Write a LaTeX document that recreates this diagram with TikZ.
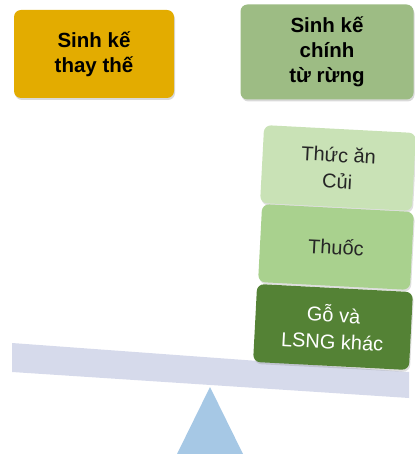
\documentclass[tikz,border=0pt]{standalone}
\usepackage{fontspec}
\setmainfont{Liberation Sans}
\usetikzlibrary{shadows}
\definecolor{altGold}{HTML}{E3AC00}
\definecolor{forestTop}{HTML}{9DBC84}
\definecolor{foodGreen}{HTML}{C9E2B6}
\definecolor{medGreen}{HTML}{A9D18E}
\definecolor{woodGreen}{HTML}{548235}
\definecolor{beamGrey}{HTML}{D6DAEB}
\definecolor{pivotBlue}{HTML}{A6C8E5}

\begin{document}
\begin{tikzpicture}[x=1pt,y=-1pt]

    \tikzstyle{commonBox}=[rectangle, rounded corners=7pt, align=center, inner sep=0pt]
    \tikzstyle{topBox}=[commonBox, font=\fontsize{20.5}{25}\selectfont\bfseries, drop shadow={opacity=0.3, shadow xshift=1pt, shadow yshift=-2pt}]
    \tikzstyle{stackBox}=[commonBox, rotate=-3, font=\fontsize{20}{26.5}\selectfont, text=black!85, minimum width=152pt, minimum height=78pt, drop shadow={opacity=0.25, shadow xshift=1pt, shadow yshift=-2pt}]

    \useasboundingbox (0,0) rectangle (414,454);

    % Top labels
    \node at (94,54)  [topBox, fill=altGold, minimum width=160pt, minimum height=88pt]   (alt)    {Sinh kế\\thay thế};
    \node at (327,52) [topBox, fill=forestTop, minimum width=173pt, minimum height=95pt] (forest) {Sinh kế\\chính\\từ rừng};

    % Pivot and beam
    \fill[pivotBlue] (210,387) -- (243,454) -- (177,454) -- cycle;
    \fill[beamGrey] (12,343) -- (409,372) -- (409,398) -- (12,372) -- cycle;

    % Stack on the heavy side
    \node at (338,168) [stackBox, fill=foodGreen]                (food)     {Thức ăn\\Củi};
    \node at (336,247) [stackBox, fill=medGreen]                 (medicine) {Thuốc};
    \node at (333,327) [stackBox, fill=woodGreen, text=white, minimum width=156pt] (wood) {Gỗ và\\LSNG khác};

\end{tikzpicture}
\end{document}
